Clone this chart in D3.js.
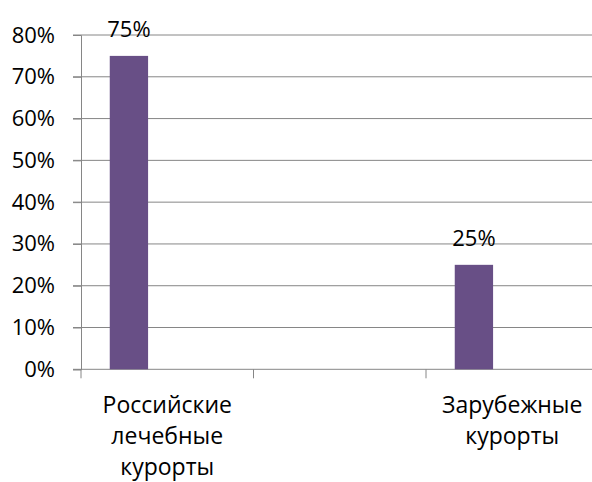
<!DOCTYPE html>
<html>
<head>
<meta charset="utf-8">
<script src="https://cdn.jsdelivr.net/npm/d3@7"></script>
<style>
  body { margin: 0; background: #fff; }
  text { font-family: "Open Sans", sans-serif; fill: #000; }
</style>
</head>
<body>
<svg width="592" height="482"></svg>
<script>
// categorieen (middelste is leeg, zoals in de originele grafiek)
const categorieen = ["Российские лечебные курорты", "", "Зарубежные курорты"];
const labelRegels = [["Российские", "лечебные", "курорты"], [], ["Зарубежные", "курорты"]];
const reeksen = ["r1", "r2", "r3"];
const waarden = [75, null, 25];
const yTicks = [0, 10, 20, 30, 40, 50, 60, 70, 80];

const svg = d3.select("svg");

const margin = { top: 35, left: 81, bottom: 113 };
const y0 = 369.3;

const xScale = d3.scaleBand()
    .domain(categorieen)
    .range([margin.left, margin.left + 3 * 172.5])
    .padding(0);

// bars staan links in de cluster (excel, gap 150%)
const reeksScale = d3.scaleBand()
    .domain(reeksen)
    .range([0, xScale.bandwidth()])
    .paddingInner(0)
    .paddingOuter(0.75);

const yScale = d3.scaleLinear()
    .domain([0, 80])
    .range([y0, margin.top]);

// rasterlijnen
svg.append("g")
    .selectAll("line")
    .data(yTicks)
    .enter()
    .append("line")
    .attr("x1", margin.left - 8)
    .attr("x2", 592)
    .attr("y1", d => yScale(d))
    .attr("y2", d => yScale(d))
    .attr("stroke", "#868686")
    .attr("stroke-width", 1);

// y-as
const yAxis = d3.axisLeft(yScale)
    .tickValues(yTicks)
    .tickFormat(d => d + "%")
    .tickSize(8)
    .tickPadding(18);

const yG = svg.append("g")
    .attr("transform", `translate(${margin.left},0)`)
    .call(yAxis);
yG.select(".domain").attr("stroke", "#868686");
yG.selectAll(".tick line").attr("stroke", "#868686");
yG.selectAll("text")
    .attr("font-size", 22)
    .attr("font-family", "'Open Sans', sans-serif")
    .attr("fill", "#000");

// x-as tickmarks op de grenzen van de categorieen
const grenzen = categorieen.map(c => xScale(c)).concat([xScale.range()[1]]);
svg.append("g")
    .selectAll("line")
    .data(grenzen)
    .enter()
    .append("line")
    .attr("x1", d => d)
    .attr("x2", d => d)
    .attr("y1", y0)
    .attr("y2", y0 + 9)
    .attr("stroke", "#868686");

// bars
const data = categorieen.map((c, i) => ({ cat: c, waarde: waarden[i] }))
    .filter(d => d.waarde != null);

svg.append("g")
    .selectAll("rect")
    .data(data)
    .enter()
    .append("rect")
    .attr("x", d => xScale(d.cat) + reeksScale("r1"))
    .attr("y", d => yScale(d.waarde))
    .attr("width", reeksScale.bandwidth())
    .attr("height", d => y0 - yScale(d.waarde))
    .attr("fill", "#684f86");

// waardelabels
svg.append("g")
    .selectAll("text")
    .data(data)
    .enter()
    .append("text")
    .attr("x", d => xScale(d.cat) + reeksScale("r1") + reeksScale.bandwidth() / 2)
    .attr("y", d => yScale(d.waarde) - 19)
    .attr("text-anchor", "middle")
    .attr("font-size", 22)
    .text(d => d.waarde + "%");

// categorielabels
categorieen.forEach((c, i) => {
    const t = svg.append("text")
        .attr("text-anchor", "middle")
        .attr("font-size", 23);
    labelRegels[i].forEach((regel, j) => {
        t.append("tspan")
            .attr("x", xScale(c) + xScale.bandwidth() / 2)
            .attr("y", 413 + j * 31)
            .text(regel);
    });
});
</script>
</body>
</html>
